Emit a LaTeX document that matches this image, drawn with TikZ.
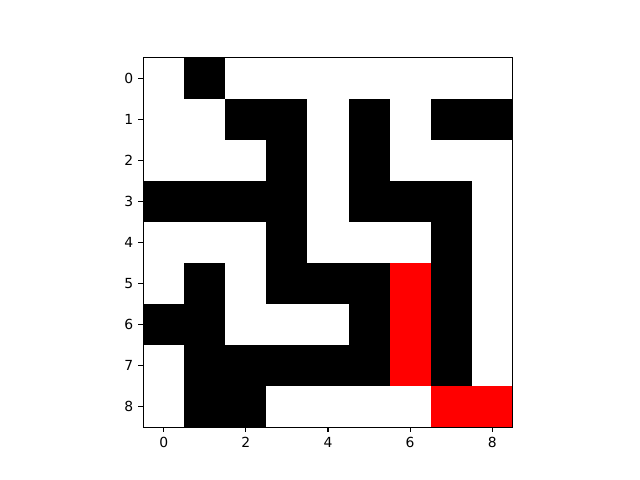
\documentclass[tikz,border=0pt]{standalone}
\usepackage{fontspec}
\setmainfont{DejaVu Sans}
\begin{document}
\begin{tikzpicture}[x=0.72pt,y=-0.72pt,
  wall/.style={fill=black},
  path cell/.style={fill=red},
  spine/.style={draw=black,line width=0.8pt},
  tickmark/.style={draw=black,line width=0.8pt},
  xlab/.style={anchor=north,inner sep=0pt,font=\fontsize{10}{12}\selectfont},
  ylab/.style={anchor=east,inner sep=0pt,font=\fontsize{10}{12}\selectfont}]
\useasboundingbox (0,0) rectangle (640,480);
\fill[white] (0,0) rectangle (640,480);
\begin{scope}[shift={(143.2,57.6)},x=29.5704pt,y=-29.5704pt]
  % walls (col,row)
  \foreach \c/\r in {1/0, 2/1,3/1,5/1,7/1,8/1, 3/2,5/2, 0/3,1/3,2/3,3/3,5/3,6/3,7/3,
                     3/4,7/4, 1/5,3/5,4/5,5/5,7/5, 0/6,1/6,5/6,7/6,
                     1/7,2/7,3/7,4/7,5/7,7/7, 1/8,2/8}
    \fill[wall] (\c,\r) rectangle ++(1,1);
  \foreach \c/\r in {6/5,6/6,6/7,7/8,8/8}
    \fill[path cell] (\c,\r) rectangle ++(1,1);
  \draw[spine] (0,0) rectangle (9,9);
  \foreach \i in {0,2,4,6,8}{
    \coordinate (xt\i) at (\i+0.5,9);
    \draw[tickmark] (xt\i) -- ++(0,-3.5pt);
    \node[xlab] (xl\i) at ([yshift=-7pt]xt\i) {\i};
  }
  \foreach \i in {0,...,8}{
    \coordinate (yt\i) at (0,\i+0.5);
    \draw[tickmark] (yt\i) -- ++(-3.5pt,0);
    \node[ylab] (yl\i) at ([xshift=-7pt]yt\i) {\i};
  }
\end{scope}
\end{tikzpicture}
\end{document}
